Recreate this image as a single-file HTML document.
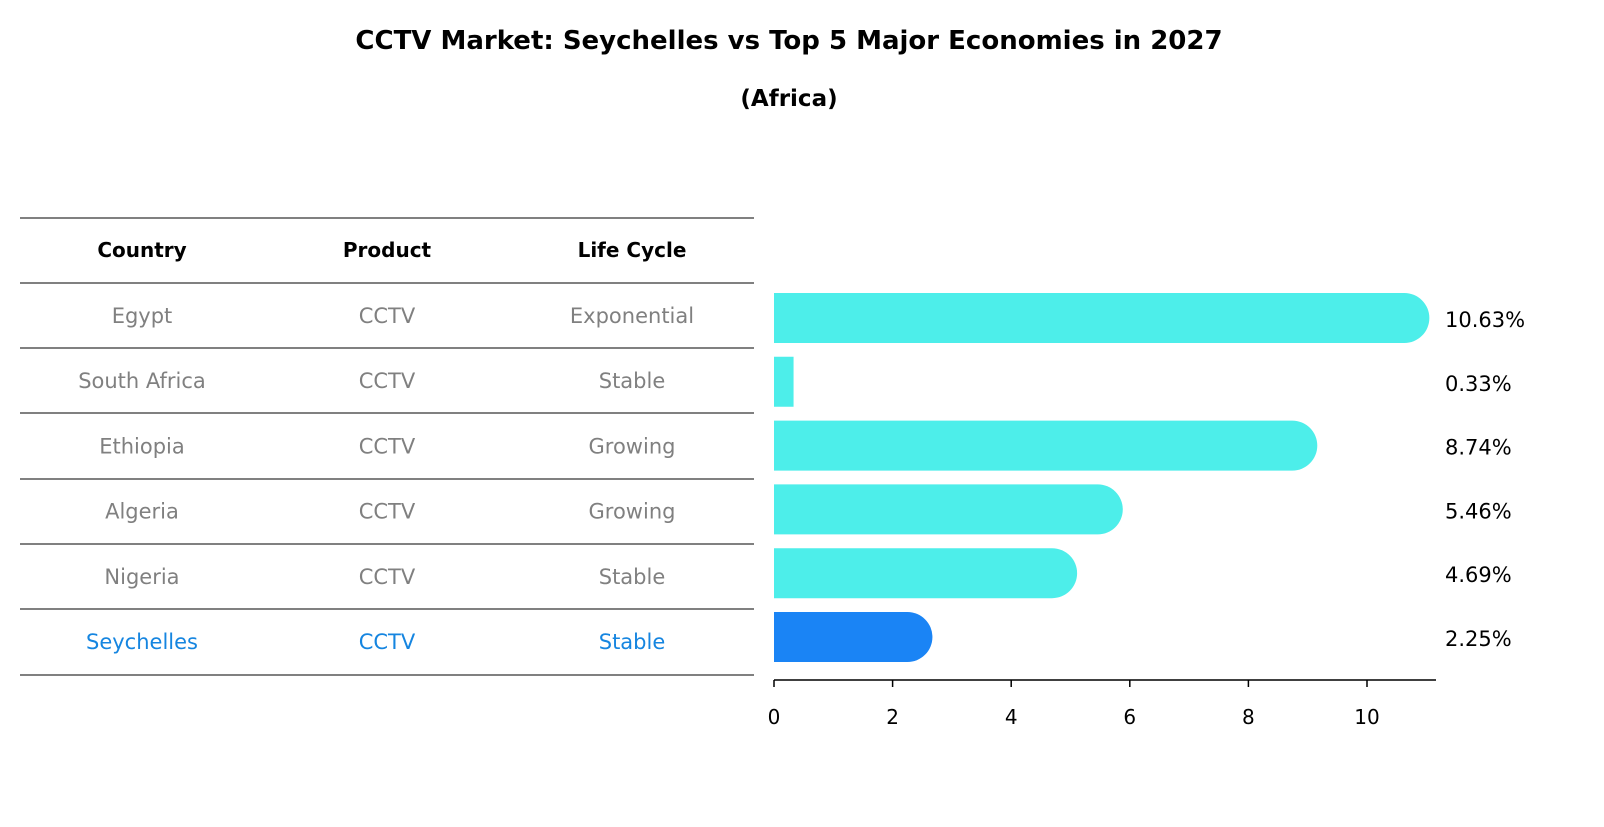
<!DOCTYPE html>
<html><head><meta charset="utf-8"><style>
body{margin:0;background:#fff;width:1604px;height:823px;overflow:hidden;font-family:"DejaVu Sans","Liberation Sans",sans-serif}
svg text{font-family:"DejaVu Sans","Liberation Sans",sans-serif}
</style></head><body>
<svg width="1604" height="823" xmlns="http://www.w3.org/2000/svg">
<text x="789" y="49" text-anchor="middle" font-size="26" font-weight="bold">CCTV Market: Seychelles vs Top 5 Major Economies in 2027</text>
<text x="789" y="106" text-anchor="middle" font-size="23" font-weight="bold">(Africa)</text>
<g id="table"></g>
<g id="bars"></g>
</svg>
<script>
const countries=["Egypt","South Africa","Ethiopia","Algeria","Nigeria","Seychelles"];
const products=["CCTV","CCTV","CCTV","CCTV","CCTV","CCTV"];
const lifeCycles=["Exponential","Stable","Growing","Growing","Stable","Stable"];
const values=[10.63,0.33,8.74,5.46,4.69,2.25];
const ticks=[0,2,4,6,8,10];
const NS="http://www.w3.org/2000/svg";
function mk(tag,attrs,parent,text){const e=document.createElementNS(NS,tag);for(const k in attrs)e.setAttribute(k,attrs[k]);if(text!==undefined)e.textContent=text;parent.appendChild(e);return e;}
const tbl=document.getElementById('table');
const lineYs=[218,283,348,413,479,544,609,675];
lineYs.forEach((y,i)=>{const l=mk('line',{x1:20,x2:754,y1:y,y2:y,stroke:'#000','stroke-width':1},tbl);

});
const colX=[142,387,632];
["Country","Product","Life Cycle"].forEach((h,i)=>{const t=mk('text',{x:colX[i],y:257,'text-anchor':'middle','font-size':20,'font-weight':'bold'},tbl,h);

});
const rowY=i=>315+i*65.2;
countries.forEach((c,i)=>{const col=c==="Seychelles"?"#1585e0":"#808080";
[c,products[i],lifeCycles[i]].forEach((v,j)=>{const t=mk('text',{x:colX[j],y:rowY(i)+8,'text-anchor':'middle','font-size':21,fill:col},tbl,v);

});});
const bars=document.getElementById('bars');
const x0=774,scale=59.3;
const xs=v=>x0+v*scale;
const barY=i=>318+i*63.8;
const h=50,r=25;
values.forEach((v,i)=>{const col=countries[i]==="Seychelles"?"#1a84f5":"#4deeea";
const xe=xs(v),top=barY(i)-h/2;
let d;
if(v*scale>r){d=`M${x0},${top} H${xe} A${r},${r} 0 0 1 ${xe},${top+h} H${x0} Z`;}
else{d=`M${x0},${top} H${xe} V${top+h} H${x0} Z`;}
const p=mk('path',{d:d,fill:col},bars);


const t=mk('text',{x:1445,y:barY(i)+9,'font-size':21},bars,v.toFixed(2)+'%');

});
const ax=mk('line',{x1:x0,x2:1436,y1:680,y2:680,stroke:'#000','stroke-width':1.5},bars);


ticks.forEach(tv=>{const x=xs(tv);
const tl=mk('line',{x1:x,x2:x,y1:680,y2:687,stroke:'#000','stroke-width':1.5},bars);


const t=mk('text',{x:x,y:724,'text-anchor':'middle','font-size':20},bars,String(tv));

});
</script>
</body></html>
